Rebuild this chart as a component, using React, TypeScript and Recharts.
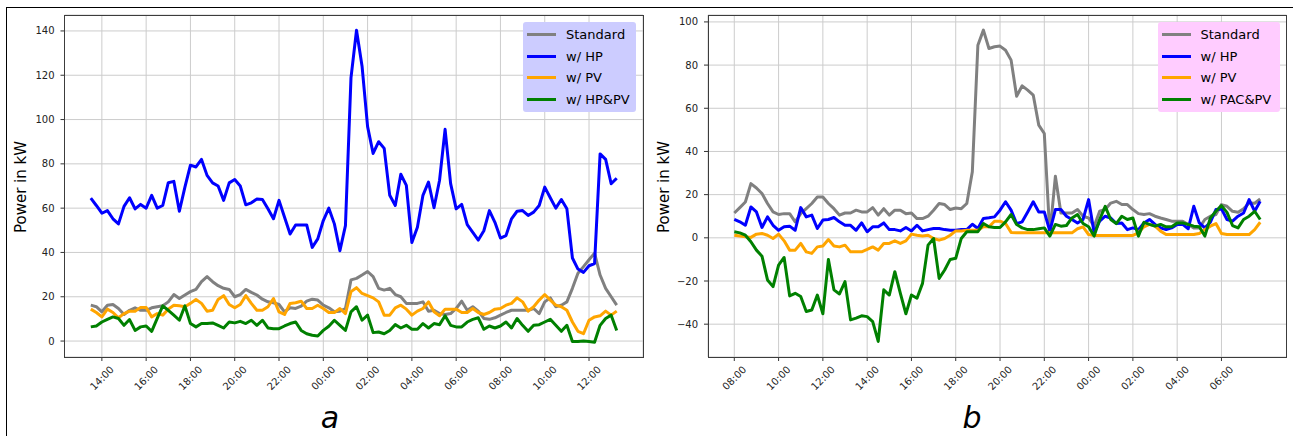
import React from 'react';
import { LineChart, Line, XAxis, YAxis, CartesianGrid } from 'recharts';

// panel a: 15-min steps starting 13:30
const startA = 13.5;
// panel b: 15-min steps starting 08:00
const startB = 8;
const stepH = 0.25;

const standardA = [
  16.2, 15.5, 13.2, 16.2, 16.5, 14.7, 12, 13.9, 15, 13.9, 13.9, 15, 15.5, 15.9, 17.7, 21, 19.2, 20.8, 22.3, 23.3,
  26.8, 29.1, 26.8, 25, 23.8, 23.3, 20, 21, 23.3, 22, 20.8, 18.9, 17.7, 17.3, 16.5, 13.2, 15, 14.7, 15.8, 18,
  18.9, 18.5, 16.2, 15, 13.2, 13.5, 14.7, 27.6, 28.3, 29.8, 31.4, 29.1, 23.8, 23, 23.8, 21, 20, 17, 17, 17,
  17.7, 13.5, 13.9, 12.4, 12, 12.4, 14.7, 18, 13.9, 15.5, 13.5, 10.2, 9.8, 10.5, 11.7, 12.9, 13.9, 13.9, 13.9, 13.9,
  14.7, 12.4, 17.7, 19.5, 15.5, 16.2, 17.7, 23.8, 30.6, 33.6, 36.7, 39.7, 29.8, 23.8, 20, 16.2,
];
const hpA = [
  64.5, 61.2, 57.7, 58.9, 55.2, 52.9, 60.8, 64.7, 59.7, 61.7, 60, 65.8, 60, 61.2, 71.5, 72.1, 58.6, 69.5, 79.4, 78.6,
  82, 74.8, 71.4, 70, 63.5, 71.4, 72.9, 70, 61.5, 62.4, 64.1, 63.9, 59.7, 55.2, 63.5, 55.9, 48.3, 52.4, 52.4, 52.4,
  42.3, 46.1, 54.4, 60, 52.9, 40.8, 52.1, 118.8, 140.3, 124.1, 96.8, 84.7, 90, 87, 65.8, 61.2, 75.3, 70.3, 44.5, 51.4,
  65.8, 71.8, 60.2, 72.6, 95.6, 71.1, 59.7, 61.7, 52.6, 49.1, 45.6, 49.8, 58.9, 53.6, 46.5, 47.6, 55.2, 58.6, 58.9, 56.7,
  58.2, 61.2, 69.5, 64.7, 60, 63.9, 59.7, 37.5, 32.5, 31, 34, 35, 84.5, 82, 71, 73.5,
];
const pvA = [
  14.4, 12.9, 10.9, 14.4, 12.9, 10.5, 12.4, 13.5, 13.5, 15.2, 15.2, 10.9, 12.4, 11.7, 14.4, 16.2, 15.9, 15.5, 17, 18.8,
  17, 13.5, 13.9, 18.8, 20.5, 16.5, 15, 16.5, 20.5, 17, 13.9, 13.9, 15.5, 19.2, 13.2, 12, 17, 17.3, 18, 14.7,
  14.7, 16.2, 14.7, 12.9, 12.9, 14.7, 12.4, 22.3, 24.1, 21.5, 20.5, 19.5, 17.7, 11.7, 11.7, 15, 16.2, 14.4, 11.7, 13.5,
  14.7, 17.7, 13.2, 11.4, 14.4, 14.4, 14.4, 12.9, 12.9, 14.7, 12.9, 12, 12.9, 14.4, 14.7, 16.2, 17, 19.5, 17.7, 13.5,
  15.5, 18.5, 21, 18.5, 16.2, 15.5, 13.9, 8.6, 4.4, 3.3, 9.4, 10.9, 11.4, 13.5, 11.7, 13.5,
];
const hpPvA = [
  6.4, 6.8, 8.6, 9.8, 10.9, 10.2, 7.1, 9.7, 4.8, 6.4, 6.8, 4.4, 10.2, 15.9, 13.9, 11.7, 9.4, 15.9, 7.9, 6.4,
  7.9, 7.9, 8.2, 7.1, 5.9, 8.6, 8.2, 8.9, 7.9, 9.4, 7.1, 9.4, 5.9, 5.6, 5.6, 6.8, 7.9, 8.6, 4.8, 3.3,
  2.6, 2.3, 4.8, 6.7, 9.4, 7.1, 4.8, 13.2, 15.5, 9.4, 11.7, 3.8, 4.1, 3.3, 4.8, 7.4, 5.9, 7.1, 5.3, 5.3,
  7.9, 5.9, 7.9, 7.4, 11.4, 7.1, 6.4, 6.4, 8.6, 9.8, 10.5, 5.3, 6.8, 5.9, 6.8, 8.6, 5.9, 10.2, 7.1, 4.4,
  7.1, 7.4, 8.6, 9.8, 7.1, 4.4, 7.1, -0.2, -0.2, 0, -0.2, -0.5, 7.1, 10.2, 11.7, 4.8,
];

const standardB = [
  11.5, 14, 16.6, 25.1, 23.1, 20.5, 15.9, 12, 10.8, 11.2, 11.2, 7.4, 11.2, 13.5, 15.9, 18.9, 18.9, 15.9, 13.5, 10.5,
  11.5, 11.5, 12.8, 12, 12, 14, 10.5, 13.5, 10.5, 12.8, 12.8, 11.2, 11.5, 8.9, 8.9, 10, 12.8, 15.9, 15.4, 13.1,
  13.8, 13.5, 15.9, 30.6, 89.2, 96.2, 87.7, 88.5, 88.8, 86.9, 82.3, 65.6, 70.4, 68.4, 66.1, 52.2, 48.3, 1.5, 28.5, 11.5,
  11.5, 11.5, 13.1, 10, 9.2, 5.4, 12.3, 13.1, 16.1, 16.9, 15.4, 15.4, 13.1, 11.2, 10.8, 11.2, 10, 9.2, 8.5, 7.7,
  7.7, 7.7, 6.2, 4.6, 4.6, 8.5, 10, 10.8, 15.4, 14.6, 12.3, 11.8, 13.4, 16.1, 16, 18,
];
const hpB = [
  8.5, 7.4, 5.8, 14.3, 12, 4.8, 9.7, 5.8, 3.5, 5.1, 5.4, 3.5, 14, 9.7, 10.5, 4.3, 8.2, 8.5, 9.4, 7.4,
  5.8, 5.8, 3.5, 6.9, 2.8, 5.1, 5.1, 6.9, 3.8, 3.8, 3.2, 4.8, 3.2, 5.8, 3.2, 3.8, 4.3, 4.3, 3.8, 3.5,
  3.5, 3.8, 3.8, 6.3, 4.3, 9, 9.3, 9.7, 12.8, 16.7, 12.8, 6.6, 7.4, 12, 16.7, 12, 12, 3.1, 13.1, 13.1,
  10, 8.5, 6.9, 8.5, 17.7, 2.3, 7.7, 10, 9.2, 6.6, 6.9, 3.8, 4.6, 3.8, 6.9, 8.5, 6.2, 4.6, 3.8, 4.6,
  6.2, 6.2, 4.2, 14.6, 6.9, 4.6, 7.2, 13.1, 13.4, 8.5, 7.7, 10, 11.5, 17.7, 12.3, 16.9,
];
const pvB = [
  1.2, 0.8, 0.5, 0.2, 1.7, 2, 1.2, -0.3, 1.7, -1.4, -5.7, -5.7, -2.6, -6.5, -7.2, -4.2, -3.8, -0.8, -3.8, -4.2,
  -3.4, -6.5, -6.5, -6.5, -5.4, -4.2, -5.7, -2.6, -2.6, -1.4, -2.6, -1.4, 1.7, 1.2, 0.8, 1.2, -0.3, -1.1, -0.3, 1.2,
  3.2, 3.2, 3.5, 3.5, 3.5, 5.1, 5.1, 7.7, 7.7, 6.6, 2.5, 2.3, 2.3, 2.3, 2.3, 2.3, 2.3, 2.3, 2.3, 2.3,
  2.3, 2.3, 4.2, 5.1, 1.5, 1.1, 1.1, 1.1, 1.1, 1.1, 1.1, 1.1, 1.1, 2.3, 5.1, 6.2, 5.4, 3.1, 1.5, 1.5,
  1.5, 1.5, 1.5, 1.5, 2, 3.8, 5.4, 6.6, 2, 1.5, 1.5, 1.5, 1.5, 1.5, 3.8, 7.2,
];
const pacPvB = [
  2.8, 2.3, 1.2, -1.8, -5.7, -8.5, -19.5, -22.6, -12.6, -9.1, -26.9, -25.7, -27.2, -34.1, -33.4, -26.5, -35.2, -10, -24.1, -26,
  -20.3, -38, -37.2, -36.1, -36.5, -38.8, -48, -24.1, -26.5, -15.7, -25.7, -35.2, -26.5, -28, -21.1, -3.4, -0.3, -18.8, -14.9, -10,
  -9.5, -0.3, 2.8, 2.8, 2.8, 6.6, 5.1, 4.8, 4.8, 7.4, 10.8, 6.2, 4.6, 3.8, 3.8, 4.2, 4.6, 0.8, 6.2, 5.4,
  5.7, 9.2, 10.8, 6.6, 5.1, 0.8, 8.5, 14.6, 8.5, 6.6, 10, 8.5, 9.2, 0.8, 7.2, 6.2, 5.4, 6.2, 5.1, 5.1,
  6.9, 6.9, 6.2, 5.4, 5.1, 0.8, 9.2, 12.3, 14.9, 11.8, 5.7, 4.6, 8.5, 10, 12.3, 8.5,
];

const ticksA = [14, 16, 18, 20, 22, 24, 26, 28, 30, 32, 34, 36];
const ticksB = [8, 10, 12, 14, 16, 18, 20, 22, 24, 26, 28, 30];
const yTicksA = [0, 20, 40, 60, 80, 100, 120, 140];
const yTicksB = [-40, -20, 0, 20, 40, 60, 80, 100];

const legendA = ['Standard', 'w/ HP', 'w/ PV', 'w/ HP&PV'];
const legendB = ['Standard', 'w/ HP', 'w/ PV', 'w/ PAC&PV'];
const colors = ['#808080', '#0000ff', '#ffa500', '#008000'];
const keys = ['std', 'hp', 'pv', 'mix'];

const buildRows = (start: number, s: number[], h: number[], p: number[], m: number[]) =>
  s.map((v, i) => ({ t: start + i * stepH, std: v, hp: h[i], pv: p[i], mix: m[i] }));

const rowsA = buildRows(startA, standardA, hpA, pvA, hpPvA);
const rowsB = buildRows(startB, standardB, hpB, pvB, pacPvB);

const FONT = 'DejaVu Sans, sans-serif';
const H = 436;
const PLOT_TOP = 15;
const PLOT_BOTTOM = 357;

const fmtHour = (h: number) => `${String(h % 24).padStart(2, '0')}:00`;
const fmtY = (v: number) => (v < 0 ? `\u2212${-v}` : `${v}`);

const XTick = (props: any) => {
  const { x, y, payload } = props;
  const cy = y + 15;
  return (
    <text x={x} y={cy} transform={`rotate(-45 ${x} ${cy})`} textAnchor="middle" dominantBaseline="central"
      fontSize={10} fill="#222" fontFamily={FONT}>
      {fmtHour(payload.value)}
    </text>
  );
};

interface PanelProps {
  left: number;
  width: number;
  plotLeft: number;
  plotRight: number;
  rows: any[];
  xDomain: [number, number];
  yDomain: [number, number];
  xTicks: number[];
  yTicks: number[];
  labels: string[];
  legendBox: { x: number; w: number; bg: string };
  tag: string;
  tagX: number;
}

const Panel: React.FC<PanelProps> = (p) => {
  const yAxisW = 60;
  const xAxisH = 40;
  const margin = {
    top: PLOT_TOP,
    right: p.width - p.plotRight,
    left: p.plotLeft - yAxisW,
    bottom: H - PLOT_BOTTOM - xAxisH,
  };
  return (
    <div style={{ position: 'absolute', left: p.left, top: 0, width: p.width, height: H }}>
      <LineChart width={p.width} height={H} data={p.rows} margin={margin}>
        <CartesianGrid stroke="#cccccc" strokeWidth={1} />
        <XAxis dataKey="t" type="number" domain={p.xDomain} ticks={p.xTicks} interval={0}
          height={xAxisH} axisLine={false} tickSize={4} tickMargin={2}
          tickLine={{ stroke: '#333' }} tick={<XTick />} />
        <YAxis type="number" domain={p.yDomain} ticks={p.yTicks} interval={0} width={yAxisW}
          axisLine={false} tickSize={4} tickMargin={6} tickLine={{ stroke: '#333' }}
          tickFormatter={fmtY} tick={{ fontSize: 10, fill: '#222', fontFamily: FONT }} />
        {keys.map((k, i) => (
          <Line key={k} dataKey={k} type="linear" stroke={colors[i]} strokeWidth={3}
            strokeLinejoin="round" dot={false} activeDot={false} isAnimationActive={false} />
        ))}
      </LineChart>

      {/* axes frame */}
      <div style={{
        position: 'absolute', left: p.plotLeft - 0.5, top: PLOT_TOP - 0.5,
        width: p.plotRight - p.plotLeft + 1, height: PLOT_BOTTOM - PLOT_TOP + 1,
        border: '1px solid #3c3c3c', boxSizing: 'border-box', pointerEvents: 'none',
      }} />

      {/* y label */}
      <div style={{
        position: 'absolute', left: p.plotLeft - 44 - 60, top: 187 - 10, width: 120, height: 20,
        transform: 'rotate(-90deg)', textAlign: 'center', fontFamily: FONT, fontSize: 15,
        lineHeight: '20px', color: '#000',
      }}>Power in kW</div>

      {/* legend */}
      <div style={{
        position: 'absolute', left: p.legendBox.x, top: 22, width: p.legendBox.w, height: 90,
        background: p.legendBox.bg, borderRadius: 3, boxSizing: 'border-box', paddingTop: 1.75,
        paddingLeft: 4, fontFamily: FONT, fontSize: 13, color: '#000',
      }}>
        {p.labels.map((lab, i) => (
          <div key={lab} style={{ height: 21.5, display: 'flex', alignItems: 'center' }}>
            <div style={{ width: 29, height: 3, background: colors[i], marginRight: 10 }} />
            <span style={{ whiteSpace: 'nowrap' }}>{lab}</span>
          </div>
        ))}
      </div>

      {/* panel tag */}
      <div style={{
        position: 'absolute', left: p.tagX - 30, top: 398, width: 60, textAlign: 'center',
        fontFamily: FONT, fontStyle: 'italic', fontSize: 30, lineHeight: '40px', color: '#000',
      }}>{p.tag}</div>
    </div>
  );
};

export default function App() {
  return (
    <div style={{ position: 'absolute', left: 0, top: 0, width: 1293, height: H, background: '#fff', overflow: 'hidden' }}>
      <div style={{ position: 'absolute', left: 6, top: 7, width: 1287, height: H - 7, borderTop: '1px solid #000', borderLeft: '1px solid #000' }} />
      <Panel left={0} width={650} plotLeft={64.5} plotRight={643} rows={rowsA}
        xDomain={[12.3125, 38.4375]} yDomain={[-7.2, 147.2]} xTicks={ticksA} yTicks={yTicksA}
        labels={legendA} legendBox={{ x: 523, w: 113, bg: 'rgb(204,204,255)' }} tag="a" tagX={330} />
      <Panel left={645} width={648} plotLeft={63} plotRight={641.5} rows={rowsB}
        xDomain={[6.8125, 32.9375]} yDomain={[-55.2, 103.2]} xTicks={ticksB} yTicks={yTicksB}
        labels={legendB} legendBox={{ x: 512.5, w: 122, bg: 'rgb(255,204,255)' }} tag="b" tagX={327} />
    </div>
  );
}
